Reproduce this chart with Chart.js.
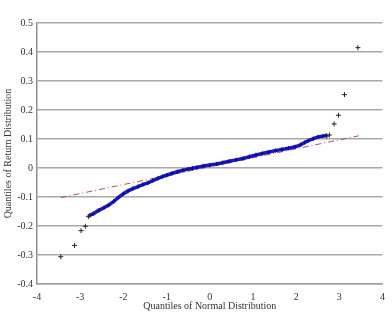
<!DOCTYPE html>
<html><head><meta charset="utf-8">
<script src="https://cdn.jsdelivr.net/npm/chart.js@4/dist/chart.umd.min.js"></script>
<style>html,body{margin:0;padding:0;background:#fff}#wrap{width:392px;height:312px}</style>
</head><body><div id="wrap"><canvas id="c" width="392" height="312"></canvas></div>
<script>
// Bulk of the QQ data (blue band)
const normalQuantiles = [-2.78,-2.70,-2.57,-2.45,-2.34,-2.22,-2.11,-2.00,-1.89,-1.78,-1.66,-1.55,-1.43,-1.32,-1.20,-1.10,-1.00,-0.88,-0.75,-0.62,-0.50,-0.40,-0.30,-0.15,0.00,0.16,0.30,0.45,0.61,0.77,0.92,1.07,1.22,1.37,1.52,1.67,1.82,1.98,2.10,2.20,2.28,2.40,2.51,2.62,2.70];
const returnQuantiles = [-0.163,-0.158,-0.146,-0.137,-0.128,-0.115,-0.101,-0.089,-0.079,-0.071,-0.064,-0.057,-0.051,-0.044,-0.036,-0.030,-0.025,-0.019,-0.013,-0.008,-0.004,-0.001,0.002,0.007,0.010,0.014,0.018,0.023,0.028,0.033,0.039,0.045,0.050,0.055,0.060,0.064,0.068,0.073,0.080,0.088,0.094,0.101,0.107,0.110,0.112];
// Tail points (isolated crosses)
const tailX = [-3.45,-3.13,-2.98,-2.88,-2.81,2.71,2.77,2.88,2.98,3.12,3.43];
const tailY = [-0.306,-0.267,-0.216,-0.201,-0.168,0.110,0.114,0.152,0.182,0.253,0.415];
// Reference line end points
const refX = [-3.45,3.45];
const refY = [-0.102,0.111];
const xTicks = [-4,-3,-2,-1,0,1,2,3,4];
const yTicks = [-0.4,-0.3,-0.2,-0.1,0,0.1,0.2,0.3,0.4,0.5];

const zip = (xs, ys) => xs.map((x, i) => ({x, y: ys[i]}));
const font = {family: '"Liberation Serif", "Times New Roman", serif', size: 10};

new Chart(document.getElementById('c'), {
  type: 'scatter',
  data: {datasets: [
    {data: zip(refX, refY), showLine: true, borderColor: '#c04850', borderWidth: 1,
     borderDash: [6,3,1,3], pointRadius: 0, order: 3},
    {data: zip(normalQuantiles, returnQuantiles), showLine: true, borderColor: '#1a1ac0', borderWidth: 3.5,
     pointStyle: 'cross', pointRadius: 2.2, pointBorderColor: '#0a0aa8', pointBorderWidth: 1, order: 2},
    {data: zip(tailX, tailY), showLine: false, pointStyle: 'cross', pointRadius: 2.5,
     pointBorderColor: '#222233', pointBorderWidth: 1, order: 1}
  ]},
  options: {
    responsive: false, animation: false,
    layout: {padding: {top: 23, right: 3, left: 0, bottom: 0}},
    plugins: {legend: {display: false}, tooltip: {enabled: false}},
    scales: {
      x: {
        type: 'linear', min: -4, max: 4,
        afterBuildTicks: s => { s.ticks = xTicks.map(v => ({value: v})); },
        afterFit: s => { s.height = 28; },
        grid: {display: false, drawTicks: false},
        border: {display: true, color: '#a0a0a0', width: 1.5},
        ticks: {font, color: '#333', padding: 7},
        title: {display: true, text: 'Quantiles of Normal Distribution', font, color: '#333', padding: {top: 1, bottom: 0}}
      },
      y: {
        type: 'linear', min: -0.4, max: 0.5,
        afterBuildTicks: s => { s.ticks = yTicks.map(v => ({value: v})); },
        afterFit: s => { s.width = 37; },
        grid: {color: '#a8a8a8', lineWidth: 1.5, drawTicks: false},
        border: {display: true, color: '#909090', width: 1.5},
        ticks: {font, color: '#333', padding: 4, callback: v => String(Math.round(v * 10) / 10)},
        title: {display: true, text: 'Quantiles of Return Distribution', font, color: '#333', padding: {top: 2, bottom: 0}}
      }
    }
  }
});
</script></body></html>
